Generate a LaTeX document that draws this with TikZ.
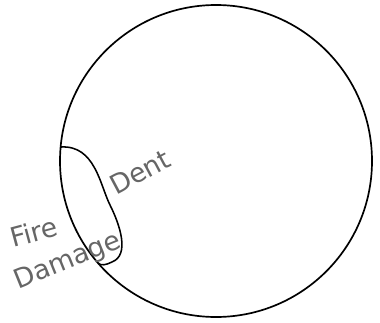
\documentclass[tikz,border=0pt]{standalone}
\usepackage{tikz}
\usepackage{fontspec}
\setsansfont{DejaVu Sans}
\tikzset{
  note/.style={text=black!60, font=\sffamily\fontsize{19}{19}\selectfont, inner sep=0pt}
}

\begin{document}
\begin{tikzpicture}[x=0.025cm, y=-0.025cm]

\useasboundingbox (0,0) rectangle (380,322);

% Cercle

\draw[line width=1.2pt] (216,161) circle (156);

% Zona abonyegada

\coordinate (dtop) at (61,147);
\coordinate (dbot) at (98,263);

\draw[line width=1.1pt] (dtop)
  .. controls (95,145) and (100,185) ..
  (110,205)
  .. controls (120,225) and (130,255) ..
  (112,262)
  .. controls (106,265) and (101,266) ..
  (dbot);

% Textos

\node[note, rotate=28] (dent) at (140,172) {Dent};

\node[note, rotate=15] (fire) at (34,232) {Fire};

\node[note, rotate=22] (damage) at (68,262) {Damage};

\end{tikzpicture}
\end{document}
